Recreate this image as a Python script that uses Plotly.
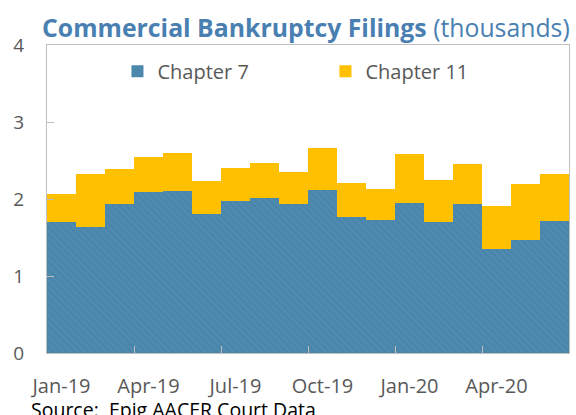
import plotly.graph_objects as go

months = ["Jan-19", "Feb-19", "Mar-19", "Apr-19", "May-19", "Jun-19", "Jul-19", "Aug-19", "Sep-19",
          "Oct-19", "Nov-19", "Dec-19", "Jan-20", "Feb-20", "Mar-20", "Apr-20", "May-20", "Jun-20"]
chapter7 = [1.70, 1.64, 1.94, 2.09, 2.11, 1.80, 1.98, 2.01, 1.93,
            2.12, 1.76, 1.73, 1.95, 1.70, 1.93, 1.35, 1.47, 1.71]
chapter11 = [0.37, 0.69, 0.45, 0.45, 0.49, 0.43, 0.42, 0.46, 0.42,
             0.54, 0.45, 0.40, 0.63, 0.55, 0.53, 0.56, 0.73, 0.61]
tick_labels = ["Jan-19", "Apr-19", "Jul-19", "Oct-19", "Jan-20", "Apr-20"]

x = list(range(len(months)))
label_pos = [months.index(t) for t in tick_labels]
boundary_pos = [p - 0.5 for p in label_pos[1:]]

FONT = "Open Sans"
BLUE = "#4a86ab"
GOLD = "#ffc000"
GREY = "#595959"
LINE = "#bfbfbf"

fig = go.Figure()
fig.add_trace(go.Bar(
    x=x, y=chapter7, name="Chapter 7", customdata=months,
    marker=dict(color=BLUE, line=dict(width=0),
                pattern=dict(shape="\\", fillmode="overlay", fgcolor="#5892b6",
                             size=5, solidity=0.3)),
))
fig.add_trace(go.Bar(
    x=x, y=chapter11, name="Chapter 11", customdata=months,
    marker=dict(color=GOLD, line=dict(width=0)),
))

fig.update_layout(
    barmode="stack", bargap=0,
    width=576, height=415,
    margin=dict(l=47, r=7, t=45, b=62, autoexpand=False),
    paper_bgcolor="white", plot_bgcolor="white",
    font=dict(family=FONT, size=20, color=GREY),
    title=dict(text="<b>Commercial Bankruptcy Filings</b> (thousands)",
               font=dict(family=FONT, size=24.8, color="#4a7fb2"),
               x=0.073, xref="container", xanchor="left", y=0.912, yanchor="bottom", yref="container"),
    showlegend=True,
    legend=dict(orientation="h", x=0.135, y=0.978, xanchor="left", yanchor="top",
                entrywidth=163, entrywidthmode="pixels",
                font=dict(family=FONT, size=20, color=GREY), bgcolor="rgba(0,0,0,0)",
                traceorder="normal"),
    xaxis=dict(range=[-0.5, len(months) - 0.5], tickmode="array", tickvals=label_pos,
               ticktext=tick_labels, ticks="", showline=True, linecolor=LINE, linewidth=1,
               mirror=True, showgrid=False, zeroline=False, ticklabelstandoff=15,
               automargin=False, tickfont=dict(size=20, color=GREY),
               minor=dict(tickmode="array", tickvals=boundary_pos, ticks="inside",
                          ticklen=7, tickcolor=LINE, tickwidth=1, showgrid=False)),
    yaxis=dict(range=[0, 4], tickvals=[0, 1, 2, 3, 4], ticks="inside", ticklen=7,
               tickcolor=LINE, showline=True, linecolor=LINE, linewidth=1, mirror=True,
               showgrid=False, zeroline=False, ticklabelstandoff=18, automargin=False,
               tickfont=dict(size=19, color=GREY)),
    annotations=[dict(text="Source:\u00a0 Epig AACER Court Data", xref="paper", yref="paper",
                      x=-0.034, y=-0.134, xanchor="left", yanchor="top", showarrow=False,
                      font=dict(family=FONT, size=19.5, color="#000000"))],
)

fig.write_html("out.html", config={"displayModeBar": False},
               post_script="document.body.style.margin='0';")
